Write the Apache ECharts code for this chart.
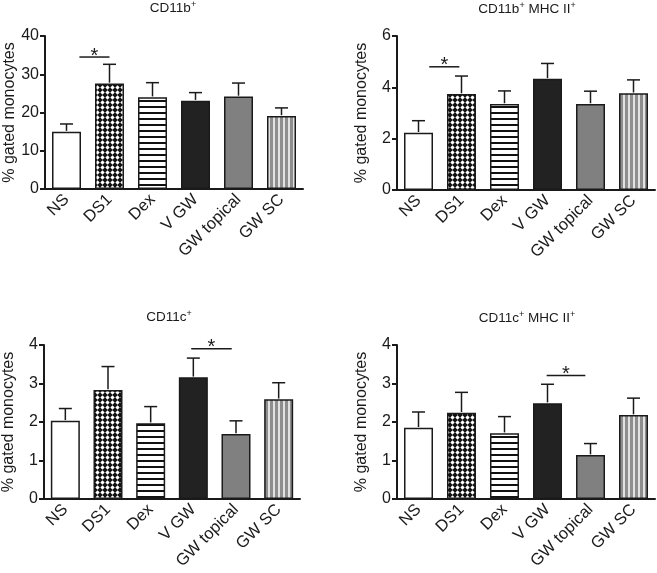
<!DOCTYPE html>
<html><head><meta charset="utf-8">
<script src="https://cdn.jsdelivr.net/npm/echarts@6/dist/echarts.min.js"></script>
<style>html,body{margin:0;padding:0;background:#fff}#c{width:657px;height:573px}</style>
</head><body><div id="c"></div>
<script>
// ---- data ----
const categories = ['NS', 'DS1', 'Dex', 'V GW', 'GW topical', 'GW SC'];

const cd11bMean    = [15.0, 27.6, 24.0, 23.1, 24.2, 19.1];
const cd11bSem     = [2.0, 5.0, 3.8, 2.1, 3.5, 2.1];
const cd11bMhcMean = [2.23, 3.74, 3.35, 4.33, 3.35, 3.77];
const cd11bMhcSem  = [0.47, 0.70, 0.51, 0.60, 0.50, 0.52];
const cd11cMean    = [2.03, 2.83, 1.97, 3.16, 1.69, 2.59];
const cd11cSem     = [0.32, 0.61, 0.43, 0.50, 0.34, 0.43];
const cd11cMhcMean = [1.85, 2.24, 1.71, 2.49, 1.14, 2.18];
const cd11cMhcSem  = [0.41, 0.53, 0.43, 0.49, 0.30, 0.44];

const yMax      = [40, 6, 4, 4];
const yInterval = [10, 2, 1, 1];
const titleMain = ['CD11b', 'CD11b', 'CD11c', 'CD11c'];
const titleRest = ['', ' MHC II', '', ' MHC II'];
const yName = '% gated monocytes';
// significance: [category position from, category position to, y value]
const sigFrom = [0.3, 0.25, 2.95, 2.98];
const sigTo   = [1.0, 0.95, 3.9, 3.88];
const sigY    = [34.5, 4.8, 3.9, 3.21];

// ---- patterns ----
function mk(w, h, draw) { const c = document.createElement('canvas'); c.width = w; c.height = h; const x = c.getContext('2d'); draw(x); return c; }
const patCross = mk(5, 5, x => {
  x.fillStyle = '#111'; x.fillRect(0,0,5,5);
  x.fillStyle = '#fff'; x.beginPath(); x.moveTo(2.5,0.3); x.lineTo(4.7,2.5); x.lineTo(2.5,4.7); x.lineTo(0.3,2.5); x.closePath(); x.fill();
});
const patH = mk(4, 6, x => { x.fillStyle = '#fff'; x.fillRect(0,0,4,6); x.fillStyle = '#111'; x.fillRect(0,4,4,2); });
const patV = mk(5, 4, x => { x.fillStyle = '#8e8e8e'; x.fillRect(0,0,5,4); x.fillStyle = '#e2e2e2'; x.fillRect(3,0,2,4); });
const fills = ['#ffffff', {image: patCross, repeat: 'repeat'}, {image: patH, repeat: 'repeat'}, '#222222', '#808080', {image: patV, repeat: 'repeat'}];

const means = [cd11bMean, cd11bMhcMean, cd11cMean, cd11cMhcMean];
const sems  = [cd11bSem, cd11bMhcSem, cd11cSem, cd11cMhcSem];

const grids = [
  {left: 45, top: 36, width: 258, height: 153},
  {left: 397, top: 36, width: 258, height: 154},
  {left: 42, top: 345, width: 258, height: 154},
  {left: 397, top: 345, width: 258, height: 154}
];
const titlePos = [[173, 8.5], [527, 9], [169, 317], [527, 318]];
const FONT = '"Liberation Sans", Arial, sans-serif';
const INK = '#1a1a1a';

const xAxes = [], yAxes = [], series = [], graphics = [];
for (let g = 0; g < 4; g++) {
  xAxes.push({
    type: 'category', gridIndex: g, data: categories, boundaryGap: true,
    axisLine: {lineStyle: {color: INK, width: 2}},
    axisTick: {alignWithLabel: true, length: 5, lineStyle: {color: INK, width: 2}},
    axisLabel: {rotate: 45, interval: 0, margin: 8, fontSize: 16.5, color: INK, fontFamily: FONT}
  });
  yAxes.push({
    type: 'value', gridIndex: g, min: 0, max: yMax[g], interval: yInterval[g],
    name: yName, nameLocation: 'middle', nameGap: 27,
    nameTextStyle: {fontSize: 16, color: INK, fontFamily: FONT},
    axisLine: {show: true, lineStyle: {color: INK, width: 2}},
    axisTick: {show: true, length: 5, lineStyle: {color: INK, width: 2}},
    axisLabel: {margin: 6, fontSize: 16, color: INK, fontFamily: FONT},
    splitLine: {show: false}
  });
  series.push({
    type: 'bar', xAxisIndex: g, yAxisIndex: g, barWidth: 29,
    data: means[g].map((v, i) => ({value: v, itemStyle: {color: fills[i]}})),
    itemStyle: {borderColor: INK, borderWidth: 1.5},
    emphasis: {disabled: true}, animation: false
  });
  series.push({
    type: 'custom', xAxisIndex: g, yAxisIndex: g, z: 5, animation: false,
    data: means[g].map((m, i) => [i, m, m + sems[g][i]]),
    renderItem: (p, api) => {
      const i = api.value(0);
      const p0 = api.coord([i, api.value(1)]);
      const p1 = api.coord([i, api.value(2)]);
      const st = {stroke: INK, lineWidth: 1.5};
      return {type: 'group', children: [
        {type: 'line', shape: {x1: p0[0], y1: p0[1] - 0.75, x2: p1[0], y2: p1[1]}, style: st},
        {type: 'line', shape: {x1: p1[0] - 6.5, y1: p1[1], x2: p1[0] + 6.5, y2: p1[1]}, style: st}
      ]};
    }
  });
  series.push({
    type: 'custom', xAxisIndex: g, yAxisIndex: g, z: 6, animation: false,
    data: [[0, sigY[g], sigFrom[g], sigTo[g]]],
    renderItem: (p, api) => {
      const base = api.coord([0, api.value(1)]);
      const bw = api.size([1, 0])[0];
      const x1 = base[0] + api.value(2) * bw, x2 = base[0] + api.value(3) * bw;
      return {type: 'group', children: [
        {type: 'line', shape: {x1: x1, y1: base[1], x2: x2, y2: base[1]}, style: {stroke: INK, lineWidth: 1.5}},
        {type: 'text', x: (x1 + x2) / 2, y: base[1] - 1,
         style: {text: '*', fontSize: 20, fontFamily: FONT, fill: INK, align: 'center', verticalAlign: 'middle'}}
      ]};
    }
  });
  graphics.push({
    type: 'text', x: titlePos[g][0], y: titlePos[g][1],
    style: {
      text: '{a|' + titleMain[g] + '}{s|+}' + (titleRest[g] ? '{a|' + titleRest[g] + '}{s|+}' : ''),
      align: 'center', verticalAlign: 'middle',
      rich: {
        a: {fontSize: 13.5, fontFamily: FONT, fill: INK, lineHeight: 16},
        s: {fontSize: 9, fontFamily: FONT, fill: INK, lineHeight: 16, verticalAlign: 'top'}
      }
    }
  });
}

const chart = echarts.init(document.getElementById('c'), null, {renderer: 'canvas'});
chart.setOption({
  backgroundColor: '#ffffff',
  animation: false,
  grid: grids,
  xAxis: xAxes,
  yAxis: yAxes,
  series: series,
  graphic: graphics
});
</script>
</body></html>
